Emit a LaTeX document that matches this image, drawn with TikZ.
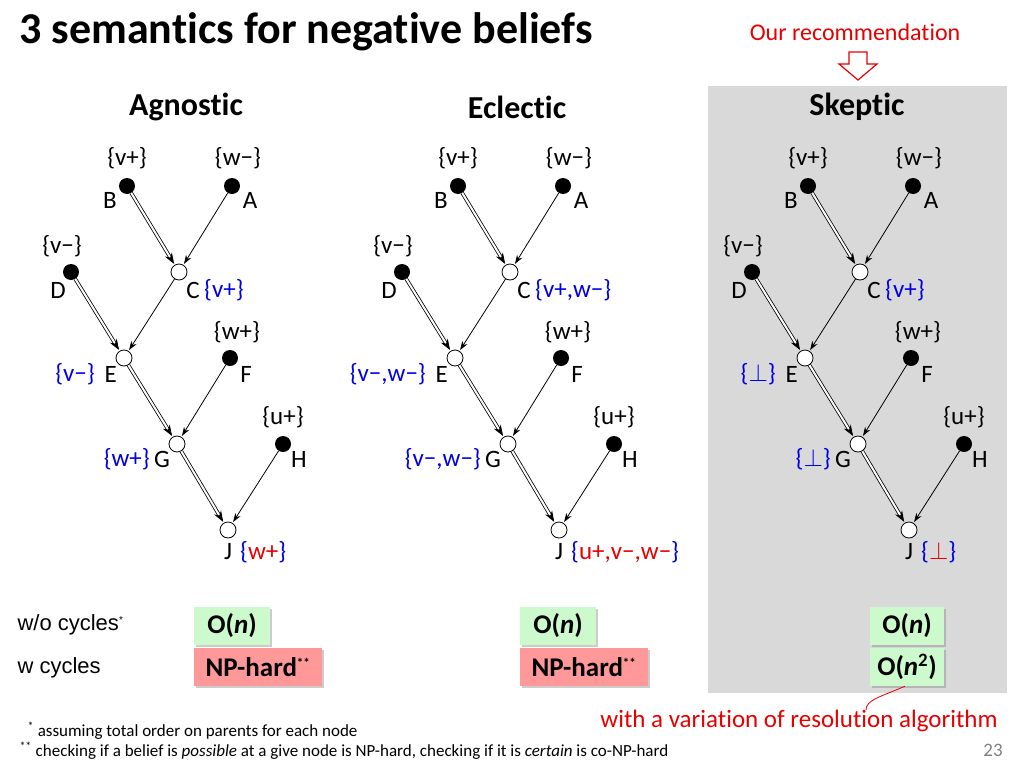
\documentclass[tikz,border=0pt]{standalone}
\usepackage{fontspec}
\setmainfont{Carlito}[Ligatures=NoCommon]
\newfontfamily\arial{Liberation Sans}
\usetikzlibrary{arrows.meta,shadows}
\definecolor{myred}{RGB}{230,0,0}
\definecolor{myblue}{RGB}{0,0,230}
\definecolor{gbox}{RGB}{204,250,204}
\definecolor{pbox}{RGB}{255,153,153}
\tikzset{
 leaf/.style={circle,fill=black,inner sep=0pt,minimum size=16pt},
 inner/.style={circle,draw=black,fill=white,inner sep=0pt,minimum size=16pt,line width=0.8pt},
 sgl/.style={-{Stealth[length=9pt,width=6pt]},line width=0.8pt,shorten >=1pt},
 dbl/.style={-{Stealth[length=11pt,width=8pt]},double,double distance=2pt,line width=0.8pt,shorten >=1pt},
 lab/.style={font=\fontsize{25}{27}\selectfont,inner sep=1pt},
 cx/.style={font=\bfseries\fontsize{27}{29}\selectfont,inner sep=0pt,minimum height=38pt,drop shadow={shadow xshift=2pt,shadow yshift=-2pt,opacity=0.4}},
}
\newcommand\mytree[2]{%
 \node[leaf] (#1B) at (127+#2,186) {};
 \node[leaf] (#1A) at (232+#2,186) {};
 \node[leaf] (#1D) at (71+#2,272) {};
 \node[inner] (#1C) at (179+#2,272) {};
 \node[inner] (#1E) at (124+#2,358) {};
 \node[leaf] (#1F) at (230+#2,358) {};
 \node[inner] (#1G) at (177+#2,444) {};
 \node[leaf] (#1H) at (283+#2,444) {};
 \node[inner] (#1J) at (228+#2,530) {};
 \draw[dbl] (#1B) -- (#1C); \draw[sgl] (#1A) -- (#1C);
 \draw[dbl] (#1D) -- (#1E); \draw[sgl] (#1C) -- (#1E);
 \draw[dbl] (#1E) -- (#1G); \draw[sgl] (#1F) -- (#1G);
 \draw[dbl] (#1G) -- (#1J); \draw[sgl] (#1H) -- (#1J);
 \node[lab] (#1lv) at (127+#2,158) {\{v+\}};
 \node[lab] (#1lw) at (238+#2,158) {\{w−\}};
 \node[lab] (#1tB) at (110+#2,200) {B};
 \node[lab] (#1tA) at (250+#2,200) {A};
 \node[lab] (#1lvm) at (62+#2,246) {\{v−\}};
 \node[lab] (#1tD) at (58+#2,290) {D};
 \node[lab] (#1tC) at (193+#2,290) {C};
 \node[lab] (#1lwp) at (237+#2,332) {\{w+\}};
 \node[lab,anchor=east] (#1tE) at (118+#2,374) {E};
 \node[lab] (#1tF) at (246+#2,374) {F};
 \node[lab] (#1lu) at (283+#2,417) {\{u+\}};
 \node[lab,anchor=east] (#1tG) at (171+#2,459) {G};
 \node[lab] (#1tH) at (299+#2,459) {H};
 \node[lab] (#1tJ) at (228+#2,552) {J};
}
\begin{document}
\begin{tikzpicture}[x=1pt,y=-1pt]
\useasboundingbox (0,0) rectangle (1024,768);
\fill[white] (0,0) rectangle (1024,768);
\fill[gray!30] (708,86) rectangle (1007,693);
\node[font=\bfseries\fontsize{44}{46}\selectfont,anchor=west] (title) at (16,32) {3 semantics for negative beliefs};
\node[font=\fontsize{24}{26}\selectfont,text=myred] (rec) at (855,32) {Our recommendation};
\draw[myred,line width=1.2pt,fill=white] (849,52)--(867,52)--(867,64)--(877,64)--(858,80)--(839,64)--(849,64)--cycle;
\node[font=\bfseries\fontsize{32}{34}\selectfont] (h1) at (186,107) {Agnostic};
\node[font=\bfseries\fontsize{32}{34}\selectfont] (h2) at (517,107) {Eclectic};
\node[font=\bfseries\fontsize{32}{34}\selectfont] (h3) at (857,107) {Skeptic};
\mytree{a}{0}
\mytree{e}{331}
\mytree{s}{681}
% Agnostic sets
\node[lab,anchor=west,text=myblue] (acs) at (203,290) {\{v+\}};
\node[lab,anchor=east,text=myblue] (aes) at (96,374) {\{v−\}};
\node[lab,anchor=east,text=myblue] (ags) at (151,459) {\{w+\}};
\node[lab,anchor=west,text=myblue] (ajs) at (239,552) {\{\textcolor{myred}{w+}\}};
% Eclectic sets
\node[lab,anchor=west,text=myblue] (ecs) at (534,290) {\{v+,w−\}};
\node[lab,anchor=east,text=myblue] (ees) at (427,374) {\{v−,w−\}};
\node[lab,anchor=east,text=myblue] (egs) at (482,459) {\{v−,w−\}};
\node[lab,anchor=west,text=myblue] (ejs) at (570,552) {\{\textcolor{myred}{u+,v−,w−}\}};
% Skeptic sets
\node[lab,anchor=west,text=myblue] (scs) at (884,290) {\{v+\}};
\node[lab,anchor=east,text=myblue] (ses) at (777,374) {\{$\perp$\}};
\node[lab,anchor=east,text=myblue] (sgs) at (832,459) {\{$\perp$\}};
\node[lab,anchor=west,text=myblue] (sjs) at (920,552) {\{\textcolor{myred}{$\perp$}\}};
% complexity
\node[font=\arial\fontsize{22}{24}\selectfont,anchor=west] (wo) at (14,625) {w/o cycles\textsuperscript{\fontsize{10}{10}\selectfont *}};
\node[font=\arial\fontsize{22}{24}\selectfont,anchor=west] (wc) at (14,668) {w cycles};
\node[cx,fill=gbox,minimum width=76pt] (c1) at (232,626) {O(\textit{n})};
\node[cx,fill=pbox,minimum width=128pt] (c2) at (258,667) {NP-hard\textsuperscript{\fontsize{13}{13}\selectfont **}};
\node[cx,fill=gbox,minimum width=76pt] (c3) at (558,626) {O(\textit{n})};
\node[cx,fill=pbox,minimum width=128pt] (c4) at (584,667) {NP-hard\textsuperscript{\fontsize{13}{13}\selectfont **}};
\node[cx,fill=gbox,minimum width=74pt] (c5) at (907,626) {O(\textit{n})};
\node[cx,fill=gbox,minimum width=74pt] (c6) at (907,667) {O(\textit{n}\textsuperscript{2})};
\node[font=\fontsize{25}{27}\selectfont,text=myred] (var) at (799,721) {with a variation of resolution algorithm};
\coordinate (ve) at (866,710);
\draw[myred,line width=0.8pt] (c6.south) ++(-2,0) coordinate (vs) .. controls (880,697) and (866,700) .. (ve);
\node[font=\fontsize{17}{19}\selectfont,anchor=west] (f1) at (24,731) {\textsuperscript{*} assuming total order on parents for each node};
\node[font=\fontsize{17}{19}\selectfont,anchor=west] (f2) at (16,751) {\textsuperscript{**} checking if a belief is \textit{possible} at a give node is NP-hard, checking if it is \textit{certain} is co-NP-hard};
\node[font=\fontsize{19}{21}\selectfont,text=gray] (pg) at (993,750) {23};
\end{tikzpicture}
\end{document}
